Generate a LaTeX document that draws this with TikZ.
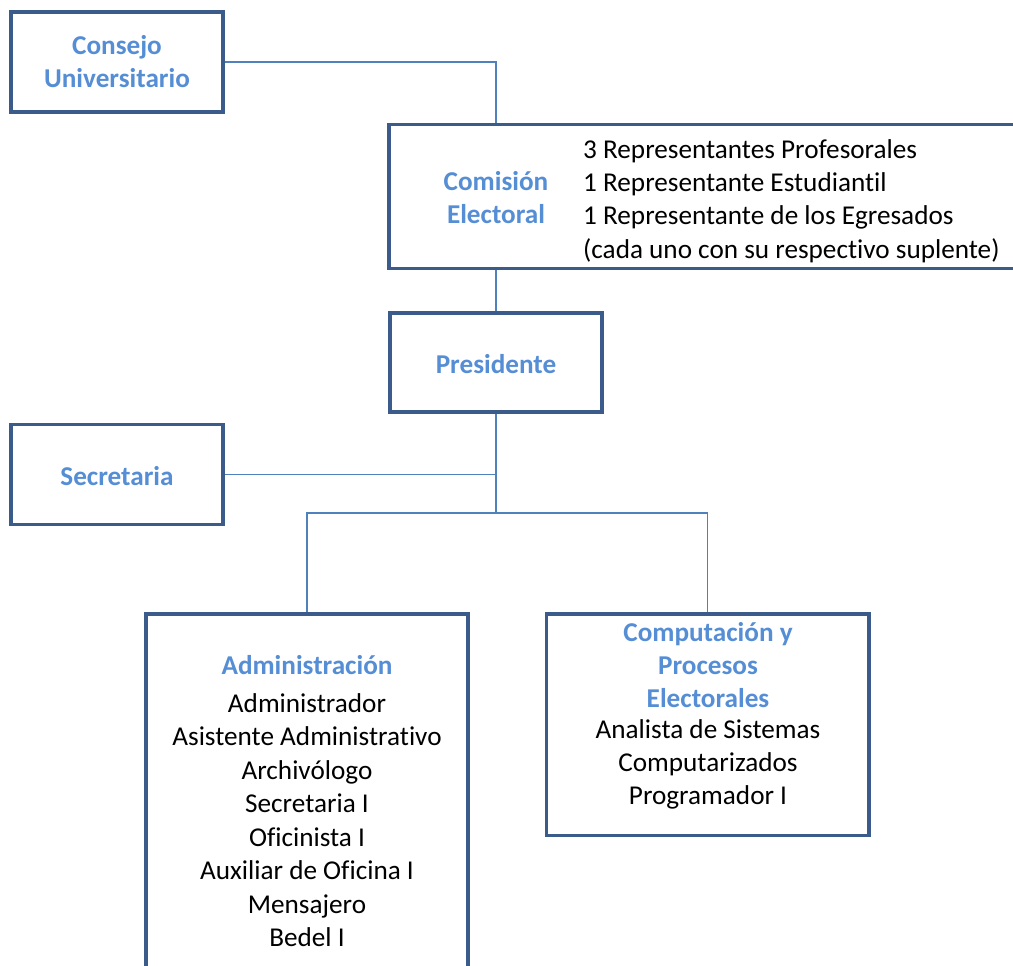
\documentclass[tikz,border=0pt]{standalone}
\usepackage{fontspec}
\setmainfont[RawFeature={-liga;-clig;-dlig}]{Carlito}
\definecolor{boxline}{RGB}{59,92,139}
\definecolor{connline}{RGB}{79,129,189}
\definecolor{titleblue}{RGB}{85,142,213}
\begin{document}
\begin{tikzpicture}[x=1pt,y=-1pt,
  unit/.style={draw=boxline,line width=3.5pt,fill=white,rectangle,inner sep=0,outer sep=0},
  conn/.style={draw=connline,line width=1.4pt},
  ttl/.style={inner sep=0,anchor=base,text=titleblue,font=\fontsize{27.2}{33}\selectfont\bfseries},
  txt/.style={inner sep=0,anchor=base,text=black,font=\fontsize{27.2}{33}\selectfont},
  lst/.style={inner sep=0,anchor=base west,text=black,font=\fontsize{27.2}{33}\selectfont}]
\useasboundingbox (0,0) rectangle (1013,966);

% units (empty boxes, labels are set separately below)
\node[unit,minimum width=212pt,minimum height=100pt] (cu) at (117,62) {};
\node[unit,minimum width=640pt,minimum height=144pt] (ce) at (709,196.5) {};
\node[unit,minimum width=212pt,minimum height=99pt] (pres) at (496,362.5) {};
\node[unit,minimum width=212pt,minimum height=100pt] (sec) at (117,474.5) {};
\node[unit,minimum width=322pt,minimum height=400pt] (adm) at (307,814) {};
\node[unit,minimum width=322.5pt,minimum height=221.5pt] (comp) at (707.75,724.75) {};

% connectors
\coordinate (bus) at (pres.south |- 0,513);
\draw[conn] (cu.east) -| (pres.north |- ce.north);
\draw[conn] (pres.north |- ce.south) -- (pres.north);
\draw[conn] (sec.east) -- (sec.east -| pres.south);
\draw[conn] (pres.south) -- (bus);
\draw[conn] (adm.north) -- (adm.north |- bus) -- (comp.north |- bus) -- (comp.north);

% redraw box borders over connector ends
\foreach \b in {cu,ce,pres,sec,adm,comp}
  \draw[boxline,line width=3.5pt] (\b.north west) rectangle (\b.south east);

% labels
\node[ttl] (cu-1) at (117,55) {Consejo};
\node[ttl] (cu-2) at (117,88) {Universitario};

\node[ttl] (ce-1) at (496,190) {Comisión};
\node[ttl] (ce-2) at (496,223) {Electoral};
\node[lst] (ce-3) at (583,158) {3 Representantes Profesorales};
\node[lst] (ce-4) at (583,191) {1 Representante Estudiantil};
\node[lst] (ce-5) at (583,224.5) {1 Representante de los Egresados};
\node[lst] (ce-6) at (583,258) {(cada uno con su respectivo suplente)};

\node[ttl] (pres-1) at (496,373) {Presidente};
\node[ttl] (sec-1) at (117,485) {Secretaria};

\node[ttl] (adm-0) at (307,674) {Administración};
\foreach \t [count=\i] in {Administrador,Asistente Administrativo,Archivólogo,Secretaria I,Oficinista I,Auxiliar de Oficina I,Mensajero,Bedel I}
  \node[txt] (adm-\i) at (307,678.5+\i*33.5) {\t};

\node[ttl] (comp-1) at (708,641) {Computación y};
\node[ttl] (comp-2) at (708,674) {Procesos};
\node[ttl] (comp-3) at (708,707) {Electorales};
\node[txt] (comp-4) at (708,738) {Analista de Sistemas};
\node[txt] (comp-5) at (708,771) {Computarizados};
\node[txt] (comp-6) at (708,804) {Programador I};
\end{tikzpicture}
\end{document}
